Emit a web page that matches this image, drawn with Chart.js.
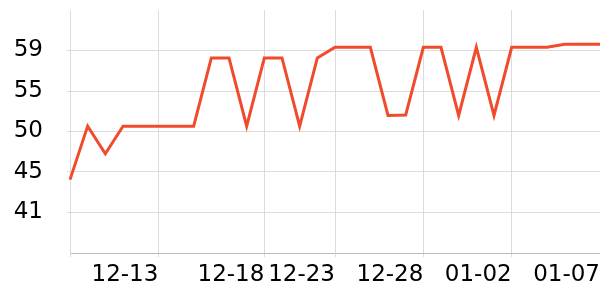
<!DOCTYPE html>
<html>
<head>
<meta charset="utf-8">
<script src="https://cdn.jsdelivr.net/npm/chart.js@4"></script>
<style>
    html, body { margin: 0; padding: 0; background: #fff; }
    #wrap { width: 600px; height: 300px; }
</style>
</head>
<body>
<div id="wrap"><canvas id="chart" width="600" height="300"></canvas></div>
<script>
// dates on the x axis (one per point)
const dates = [
    '12-08', '12-09', '12-10', '12-11', '12-12', '12-13', '12-14', '12-15',
    '12-15', '12-16', '12-17', '12-18', '12-19', '12-20', '12-21', '12-23',
    '12-24', '12-25', '12-26', '12-27', '12-28', '12-29', '12-30', '12-31',
    '01-01', '01-02', '01-03', '01-04', '01-05', '01-06', '01-07'
];
const values = [
    44.6, 50.6, 47.5, 50.6, 50.6, 50.6, 50.6, 50.6,
    58.25, 58.25, 50.6, 58.25, 58.25, 50.6, 58.25, 59.45,
    59.45, 59.45, 51.8, 51.85, 59.45, 59.45, 51.8, 59.45,
    51.8, 59.45, 59.45, 59.45, 59.8, 59.8, 59.8
];
const xTickLabels = ['12-13', '12-18', '12-23', '12-28', '01-02', '01-07'];
const yTickValues = [40.909, 45.455, 50, 54.545, 59.091];
const yTickLabels = ['41', '45', '50', '55', '59'];
const yMin = 36.364;
const yMax = 63.636;

const lineColor = '#f04b2d';
const gridColor = '#dcdcdc';
const font = { family: 'DejaVu Sans', size: 23 };

// no extra room for half labels at the ends of the axes
const noEdgePadding = (scale) => {
    scale.paddingTop = 0;
    scale.paddingBottom = 0;
    scale.paddingLeft = 0;
    scale.paddingRight = 0;
};

const ctx = document.getElementById('chart').getContext('2d');
new Chart(ctx, {
    type: 'line',
    data: {
        labels: dates,
        datasets: [{
            data: values,
            borderColor: lineColor,
            borderWidth: 3,
            pointRadius: 0,
            tension: 0,
            fill: false
        }]
    },
    options: {
        responsive: false,
        animation: false,
        layout: { padding: { top: 10, right: 0, left: 0, bottom: 0 } },
        plugins: { legend: { display: false }, tooltip: { enabled: false } },
        scales: {
            x: {
                offset: false,
                afterBuildTicks: (scale) => {
                    scale.ticks = scale.ticks.filter(t => t.value === 0 || xTickLabels.includes(dates[t.value]));
                },
                afterFit: (scale) => { scale.height = 47; noEdgePadding(scale); },
                grid: { color: gridColor, tickLength: 4 },
                border: { color: '#bbbbbb' },
                ticks: {
                    autoSkip: false,
                    maxRotation: 0,
                    align: 'end',
                    padding: 4,
                    color: '#000',
                    font: font,
                    callback: function (value) {
                        const label = dates[value];
                        return xTickLabels.includes(label) ? label : '';
                    }
                }
            },
            y: {
                min: yMin,
                max: yMax,
                afterBuildTicks: (scale) => {
                    scale.ticks = yTickValues.map(v => ({ value: v }));
                },
                afterFit: (scale) => { scale.width = 70; noEdgePadding(scale); },
                grid: { color: gridColor, tickLength: 3 },
                border: { color: gridColor },
                ticks: {
                    padding: 24,
                    color: '#000',
                    font: font,
                    callback: (value, i) => yTickLabels[i]
                }
            }
        }
    }
});
</script>
</body>
</html>
